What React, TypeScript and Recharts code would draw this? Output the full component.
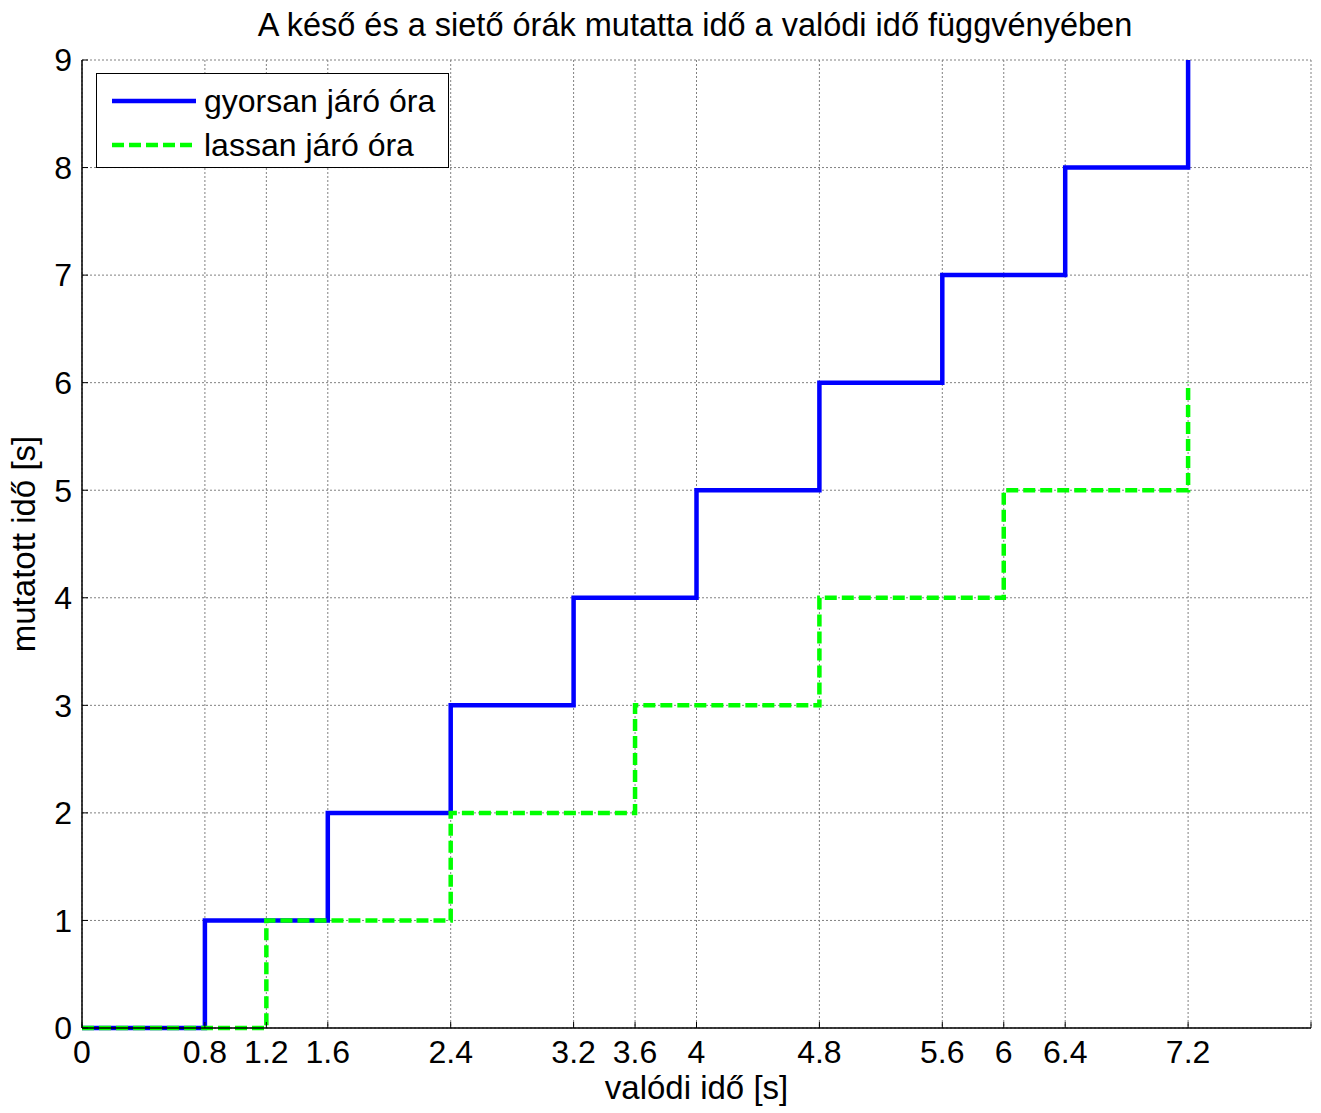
import { LineChart, Line, XAxis, YAxis, CartesianGrid } from 'recharts';

// valódi idő (s) – a tengely osztásai
const X_TICKS = [0, 0.8, 1.2, 1.6, 2.4, 3.2, 3.6, 4, 4.8, 5.6, 6, 6.4, 7.2, 8];
const Y_TICKS = [0, 1, 2, 3, 4, 5, 6, 7, 8, 9];

// gyorsan járó óra
const fastTimes = [0, 0.8, 1.6, 2.4, 3.2, 4, 4.8, 5.6, 6.4, 7.2];
const fastShown = [0, 1, 2, 3, 4, 5, 6, 7, 8, 9];

// lassan járó óra
const slowTimes = [0, 1.2, 2.4, 3.6, 4.8, 6, 7.2];
const slowShown = [0, 1, 2, 3, 4, 5, 6];

const fastData = fastTimes.map((t, i) => ({ t, v: fastShown[i] }));
const slowData = slowTimes.map((t, i) => ({ t, v: slowShown[i] }));

const FONT = '"Liberation Sans", Arial, sans-serif';
const FS = 32;
const TICK_LEN = 6;
const X_MARGIN = 12;
const Y_MARGIN = 10;

function BottomTick(props: any) {
  const { x, y, payload } = props;
  const label = payload.value === 8 ? '' : String(payload.value);
  return (
    <g>
      <line x1={x} x2={x} y1={y - X_MARGIN} y2={y - X_MARGIN - TICK_LEN} stroke="#000" />
      <text x={x} y={y} dy="0.71em" textAnchor="middle" fontSize={FS} fontFamily={FONT} fill="#000">
        {label}
      </text>
    </g>
  );
}

function LeftTick(props: any) {
  const { x, y, payload } = props;
  return (
    <g>
      <line x1={x + Y_MARGIN} x2={x + Y_MARGIN + TICK_LEN} y1={y} y2={y} stroke="#000" />
      <text x={x} y={y} dy="0.355em" textAnchor="end" fontSize={FS} fontFamily={FONT} fill="#000">
        {payload.value}
      </text>
    </g>
  );
}

function TopTick(props: any) {
  const { x, y } = props;
  return <line x1={x} x2={x} y1={y} y2={y + TICK_LEN} stroke="#000" />;
}

function RightTick(props: any) {
  const { x, y } = props;
  return <line x1={x} x2={x - TICK_LEN} y1={y} y2={y} stroke="#000" />;
}

function XLabel(props: any) {
  const vb = props.viewBox;
  return (
    <text x={vb.x + vb.width / 2} y={vb.y + 71} textAnchor="middle" fontSize={33} fontFamily={FONT} fill="#000">
      valódi idő [s]
    </text>
  );
}

function YLabel(props: any) {
  const vb = props.viewBox;
  const cx = vb.x + 35;
  const cy = vb.y + vb.height / 2;
  return (
    <text x={cx} y={cy} transform={`rotate(-90 ${cx} ${cy})`} textAnchor="middle" fontSize={33} fontFamily={FONT} fill="#000">
      mutatott idő [s]
    </text>
  );
}

function LegendSample({ color, dash }: { color: string; dash?: string }) {
  return (
    <svg width={84} height={8} style={{ position: 'absolute', left: 15, top: -4 }}>
      <line x1={0} x2={84} y1={4} y2={4} stroke={color} strokeWidth={4.5} strokeDasharray={dash} />
    </svg>
  );
}

export default function App() {
  return (
    <div style={{ position: 'absolute', left: 0, top: 0, width: 1321, height: 1113, background: '#fff' }}>
      <LineChart width={1321} height={1113} margin={{ top: 0, right: 0, bottom: 0, left: 0 }}>
        <CartesianGrid stroke="#808080" strokeDasharray="2 2" />
        <XAxis
          dataKey="t"
          type="number"
          domain={[0, 8]}
          ticks={X_TICKS}
          interval={0}
          height={85}
          tickSize={0}
          tickLine={false}
          tickMargin={X_MARGIN}
          axisLine={{ stroke: '#000', strokeWidth: 1.5 }}
          tick={<BottomTick />}
          label={<XLabel />}
          allowDuplicatedCategory={false}
        />
        <XAxis
          xAxisId="top"
          orientation="top"
          type="number"
          domain={[0, 8]}
          ticks={X_TICKS}
          interval={0}
          height={60}
          tickSize={0}
          tickLine={false}
          tickMargin={0}
          axisLine={false}
          tick={<TopTick />}
        />
        <YAxis
          type="number"
          domain={[0, 9]}
          ticks={Y_TICKS}
          interval={0}
          width={82}
          tickSize={0}
          tickLine={false}
          tickMargin={Y_MARGIN}
          axisLine={{ stroke: '#000', strokeWidth: 1.5 }}
          tick={<LeftTick />}
          label={<YLabel />}
        />
        <YAxis
          yAxisId="right"
          orientation="right"
          type="number"
          domain={[0, 9]}
          ticks={Y_TICKS}
          interval={0}
          width={10}
          tickSize={0}
          tickLine={false}
          tickMargin={0}
          axisLine={false}
          tick={<RightTick />}
        />
        <Line
          data={fastData}
          dataKey="v"
          type="stepAfter"
          stroke="#0000ff"
          strokeWidth={4.5}
          dot={false}
          isAnimationActive={false}
        />
        <Line
          data={slowData}
          dataKey="v"
          type="stepAfter"
          stroke="#00ff00"
          strokeWidth={4.5}
          strokeDasharray="12 5"
          dot={false}
          isAnimationActive={false}
        />
      </LineChart>

      <div
        style={{
          position: 'absolute',
          left: 0,
          top: 9,
          width: 1390,
          textAlign: 'center',
          fontFamily: FONT,
          fontSize: 32.5,
          lineHeight: '32px',
          color: '#000',
          whiteSpace: 'nowrap',
        }}
      >
        A késő és a siető órák mutatta idő a valódi idő függvényében
      </div>

      <div
        style={{
          position: 'absolute',
          left: 96,
          top: 73,
          width: 353,
          height: 95,
          boxSizing: 'border-box',
          border: '1.5px solid #000',
          background: '#fff',
          fontFamily: FONT,
          fontSize: FS,
          color: '#000',
        }}
      >
        <div style={{ position: 'absolute', left: 0, top: 27, width: '100%' }}>
          <LegendSample color="#0000ff" />
          <span style={{ position: 'absolute', left: 107, top: -18, lineHeight: '36px', whiteSpace: 'nowrap' }}>
            gyorsan járó óra
          </span>
        </div>
        <div style={{ position: 'absolute', left: 0, top: 71, width: '100%' }}>
          <LegendSample color="#00ff00" dash="12 5" />
          <span style={{ position: 'absolute', left: 107, top: -18, lineHeight: '36px', whiteSpace: 'nowrap' }}>
            lassan járó óra
          </span>
        </div>
      </div>
    </div>
  );
}
